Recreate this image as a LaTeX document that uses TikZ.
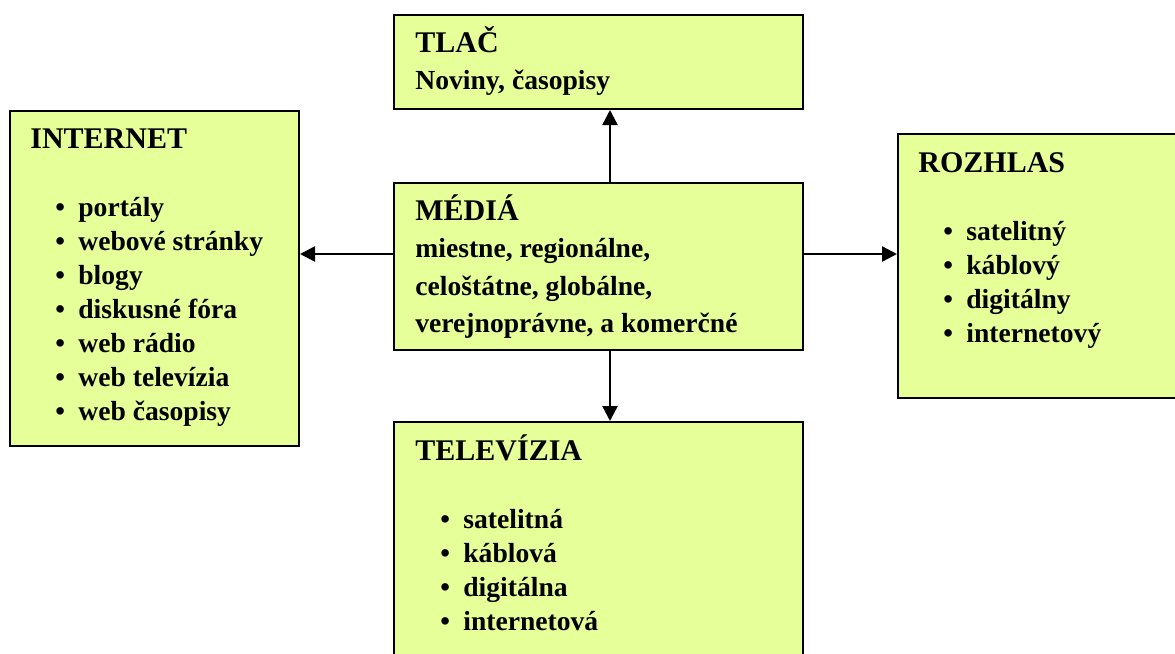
\documentclass[tikz,border=0pt]{standalone}
\usepackage{fontspec}
\setmainfont{Liberation Serif}
\usetikzlibrary{positioning,arrows.meta}
\definecolor{boxfill}{HTML}{E6FF99}
\newcommand{\itm}[1]{\hspace*{12.5pt}\makebox[11.5pt][l]{\textbullet}#1}
\newcommand{\ttl}[1]{{\fontsize{15}{17}\selectfont #1}}

\begin{document}
\begin{tikzpicture}[x=0.5pt,y=-0.5pt,
  box/.style={draw=black, line width=1pt, fill=boxfill, anchor=north west, inner sep=0pt},
  txt/.style={anchor=base west, inner sep=0pt, font=\bfseries\fontsize{13.8}{17}\selectfont},
  wide/.style={txt, font=\bfseries\fontsize{13.8}{18.75}\selectfont},
  link/.style={-{Triangle[length=7.5pt,width=7.5pt]}, line width=1.2pt}]
  \useasboundingbox (0,0) rectangle (1175,654);
  % boxes
  \node[box, minimum width=204.5pt, minimum height=47pt] (tlac) at (393,14) {};
  \node[box, minimum width=144.5pt, minimum height=167.5pt] (internet) at (9,110) {};
  \node[box, minimum width=204.5pt, minimum height=83.5pt] (media) at (393,182) {};
  \node[box, minimum width=141.5pt, minimum height=132pt] (rozhlas) at (897,133) {};
  \node[box, minimum width=204.5pt, minimum height=119.5pt] (televizia) at (393,421) {};
  % texts
  \node[wide] (tlac-t) at (415,52) {\begin{tabular}[t]{@{}l@{}}
    \ttl{TLAČ}\\ Noviny, časopisy\end{tabular}};
  \node[wide] (media-t) at (415,220) {\begin{tabular}[t]{@{}l@{}}
    \ttl{MÉDIÁ}\\ miestne, regionálne,\\ celoštátne, globálne,\\ verejnoprávne, a komerčné\end{tabular}};
  \node[txt] (internet-t) at (30,148) {\begin{tabular}[t]{@{}l@{}}
    \ttl{INTERNET}\\ \\ \itm{portály}\\ \itm{webové stránky}\\ \itm{blogy}\\ \itm{diskusné fóra}\\
    \itm{web rádio}\\ \itm{web televízia}\\ \itm{web časopisy}\end{tabular}};
  \node[txt] (rozhlas-t) at (918,172) {\begin{tabular}[t]{@{}l@{}}
    \ttl{ROZHLAS}\\ \\ \itm{satelitný}\\ \itm{káblový}\\ \itm{digitálny}\\ \itm{internetový}\end{tabular}};
  \node[txt] (televizia-t) at (415,460) {\begin{tabular}[t]{@{}l@{}}
    \ttl{TELEVÍZIA}\\ \\ \itm{satelitná}\\ \itm{káblová}\\ \itm{digitálna}\\ \itm{internetová}\end{tabular}};
  % arrows
  \draw[link] ([xshift=5.75pt]media.north) coordinate (mt) -- (mt |- tlac.south);
  \draw[link] ([xshift=5.75pt]media.south) coordinate (mb) -- (mb |- televizia.north);
  \draw[link] ([yshift=6.25pt]media.west) coordinate (ml) -- (ml -| internet.east);
  \draw[link] ([yshift=6.25pt]media.east) coordinate (mr) -- (mr -| rozhlas.west);
\end{tikzpicture}
\end{document}
